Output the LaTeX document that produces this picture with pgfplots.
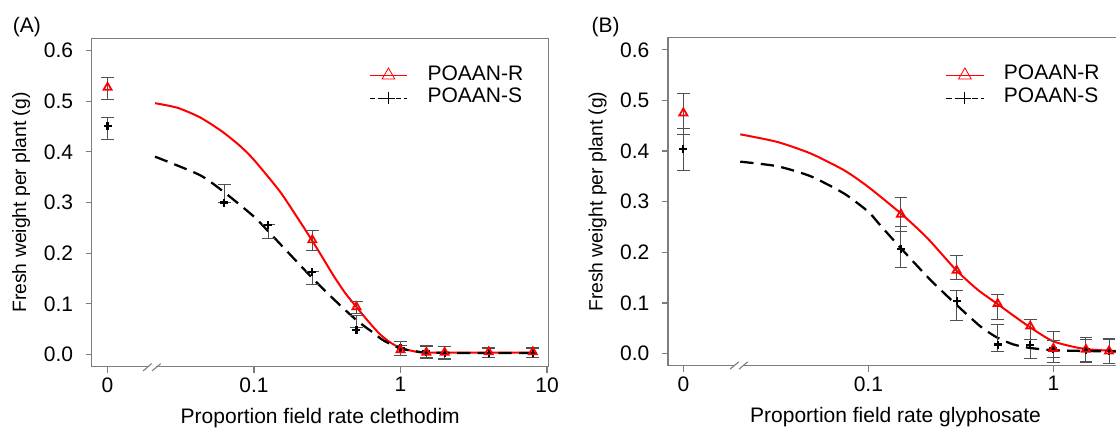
\documentclass[border=0pt]{standalone}
\usepackage{fontspec}
\setmainfont{Liberation Sans}
\usepackage{pgfplots}
\pgfplotsset{compat=1.18}

\definecolor{framegray}{RGB}{125,125,125}
\definecolor{bargray}{RGB}{80,80,80}

\newcommand{\tickfont}{\fontsize{15.75}{18}\selectfont}

\pgfplotsset{
  legend image code/.code={
    \draw[mark repeat=2, mark phase=2, #1] plot coordinates {(0pt,0pt) (14pt,0pt) (28pt,0pt)};
  },
}
\pgfplotsset{
  myax/.style={
    scale only axis, clip=false,
    ymin=-0.024, ymax=0.624,
    axis line style={framegray, line width=0.9pt},
    tick style={framegray, line width=0.9pt},
    tick align=outside, tick pos=left, major tick length=4.5pt,
    xminorticks=false, yminorticks=false,
    ytick={0,0.1,0.2,0.3,0.4,0.5,0.6},
    yticklabel style={/pgf/number format/fixed, /pgf/number format/fixed zerofill,
      /pgf/number format/precision=1, /pgf/number format/assume math mode=true, xshift=-6pt},
    tick label style={font=\tickfont},
    label style={font=\tickfont},
    ylabel style={at={(axis description cs:-0.1547,0.5)}, anchor=center, font=\fontsize{14.5}{17}\selectfont},
    xlabel style={at={(axis description cs:0.5,-0.156)}, anchor=center},
    legend cell align=left,
    legend style={draw=none, fill=none, inner sep=0pt, font=\tickfont,
      nodes={inner sep=0pt, text height=12pt, text depth=5pt},
      /tikz/every odd column/.append style={column sep=15pt}},
  },
  curveR/.style={red, line width=1.5pt, smooth, tension=0.4, forget plot},
  curveS/.style={black, line width=1.7pt, dash pattern=on 10pt off 5.5pt, smooth, tension=0.4, forget plot},
  ebars/.style={
    error bars/y dir=both, error bars/y explicit,
    error bars/error bar style={bargray, line width=0.75pt, solid},
    error bars/error mark options={bargray, rotate=90, mark size=4.8pt, line width=0.75pt}},
  marksR/.style={only marks, mark=triangle, mark size=3.5pt, red, mark options={line width=1.3pt}, forget plot, ebars},
  marksS/.style={only marks, mark=+, mark size=3pt, black, mark options={line width=1.6pt}, forget plot, ebars},
}

\begin{document}
\begin{tikzpicture}

% ---------------- panel A: clethodim ----------------
\begin{axis}[myax, xmode=log,
  at={(68.8pt,46.7pt)}, anchor=south west,
  width=342.75pt, height=246.3pt,
  xmin=0.0078, xmax=10.27,
  xtick={0.01,0.1,1,10}, xticklabels={0,0.1,1,10},
  xlabel={Proportion field rate clethodim},
  ylabel={Fresh weight per plant (g)},
  legend style={at={(axis description cs:0.607,0.9226)}, anchor=north west},
]
\addlegendimage{red, line width=0.6pt, mark=triangle, mark size=5.5pt, mark options={line width=0.6pt}}
\addlegendimage{black, line width=0.6pt, dash pattern=on 4pt off 2.5pt, mark=+, mark size=4.8pt, mark options={solid, line width=0.6pt}}
\legend{POAAN-R,POAAN-S}

\addplot[curveR] coordinates {
  (0.0211,0.496) (0.03,0.487) (0.0428,0.468) (0.06,0.441) (0.08,0.412)
  (0.1,0.384) (0.15,0.322) (0.2,0.268) (0.248,0.226) (0.3,0.187)
  (0.35,0.155) (0.42,0.121) (0.5,0.094) (0.6,0.066) (0.724,0.040)
  (0.85,0.024) (1,0.013) (1.26,0.006) (1.5,0.004) (3,0.004) (8,0.004)};
\addplot[curveS] coordinates {
  (0.0211,0.3905) (0.0428,0.354) (0.0634,0.319) (0.1,0.272) (0.129,0.239)
  (0.248,0.152) (0.3475,0.110) (0.5,0.068) (0.652,0.043) (0.764,0.028)
  (1,0.012) (1.3,0.006) (1.5,0.004) (3,0.003) (8,0.003)};

% points with error bars: x, value, plus, minus
\addplot[marksS] table[x=x, y=y, y error plus=ep, y error minus=em] {
x y ep em
0.01 0.451 0.017 0.026
0.0625 0.300 0.036 0
0.125 0.2555 0.0015 0.0265
0.25 0.163 0.0005 0.0255
0.5 0.048 0.030 -0.006
1 0.012 0.013 0.013
1.5 0.006 0.012 0.012
2 0.003 0.013 0.013
4 0.003 0.009 0.009
8 0.003 0.009 0.009
};
\addplot[marksR] table[x=x, y=y, y error plus=ep, y error minus=em] {
x y ep em
0.01 0.527 0.020 0.023
0.25 0.226 0.0197 0.0213
0.5 0.094 0.011 0.013
1 0.009 0.009 0.011
1.5 0.004 0.012 0.012
2 0.004 0.011 0.011
4 0.005 0.008 0.010
8 0.005 0.008 0.010
};

% axis break
\fill[white] (axis cs:0.01875,-0.030) rectangle (axis cs:0.02143,-0.019);
\draw[framegray, line width=0.8pt] (axis cs:0.01747,-0.0324) -- (axis cs:0.0200,-0.0178);
\draw[framegray, line width=0.8pt] (axis cs:0.02013,-0.0324) -- (axis cs:0.02307,-0.0178);

\node[anchor=west, font=\tickfont] at (axis description cs:-0.183,1.035) {(A)};
\end{axis}

% ---------------- panel B: glyphosate ----------------
\begin{axis}[myax, xmode=log,
  at={(501pt,47.5pt)}, anchor=south west,
  width=341.25pt, height=246pt,
  xmin=0.00826, xmax=2.38,
  xtick={0.01,0.1,1}, xticklabels={0,0.1,1},
  xlabel={Proportion field rate glyphosate},
  ylabel={Fresh weight per plant (g)},
  legend style={at={(axis description cs:0.610,0.9207)}, anchor=north west},
]
\addlegendimage{red, line width=0.6pt, mark=triangle, mark size=5.5pt, mark options={line width=0.6pt}}
\addlegendimage{black, line width=0.6pt, dash pattern=on 4pt off 2.5pt, mark=+, mark size=4.8pt, mark options={solid, line width=0.6pt}}
\legend{POAAN-R,POAAN-S}

\addplot[curveR] coordinates {
  (0.0203,0.433) (0.0322,0.418) (0.0489,0.395) (0.074,0.362) (0.1,0.329)
  (0.1517,0.275) (0.2085,0.228) (0.298,0.165) (0.39,0.126) (0.494,0.099)
  (0.608,0.075) (0.748,0.052) (1,0.024) (1.48,0.009) (2.38,0.0045)};
\addplot[curveS] coordinates {
  (0.0203,0.379) (0.0322,0.370) (0.0489,0.350) (0.074,0.316) (0.1,0.280)
  (0.1156,0.254) (0.1517,0.206) (0.2158,0.146) (0.298,0.097) (0.402,0.054)
  (0.494,0.032) (0.608,0.018) (0.748,0.011) (1,0.0066) (1.48,0.005) (2.38,0.004)};

\addplot[marksS] table[x=x, y=y, y error plus=ep, y error minus=em] {
x y ep em
0.01 0.4035 0.0405 0.0425
0.15 0.206 0.0446 0.0353
0.3 0.104 0.020 0.0384
0.5 0.0177 0.0393 0.0131
0.75 0.0164 0.0116 0.0269
1 0.0098 0.0152 0.0268
1.5 0.0079 0.0201 0.0239
2 0.0046 0.0234 0.0246
};
\addplot[marksR] table[x=x, y=y, y error plus=ep, y error minus=em] {
x y ep em
0.01 0.475 0.039 0.042
0.15 0.275 0.0335 0.0345
0.3 0.164 0.0295 0.0183
0.5 0.0984 0.0191 0.0304
0.75 0.0538 0.0132 0.0262
1 0.0098 0.0342 0.0178
1.5 0.0079 0.0231 0.0249
2 0.0046 0.0254 0.0236
};

\fill[white] (axis cs:0.01891,-0.029) rectangle (axis cs:0.02102,-0.018);
\draw[framegray, line width=0.8pt] (axis cs:0.01788,-0.0309) -- (axis cs:0.01994,-0.0163);
\draw[framegray, line width=0.8pt] (axis cs:0.0200,-0.0309) -- (axis cs:0.02229,-0.0163);

\node[anchor=west, font=\tickfont] at (axis description cs:-0.178,1.0335) {(B)};
\end{axis}

\pgfresetboundingbox
\useasboundingbox (0pt,0pt) rectangle (837pt,321.75pt);
\end{tikzpicture}
\end{document}
